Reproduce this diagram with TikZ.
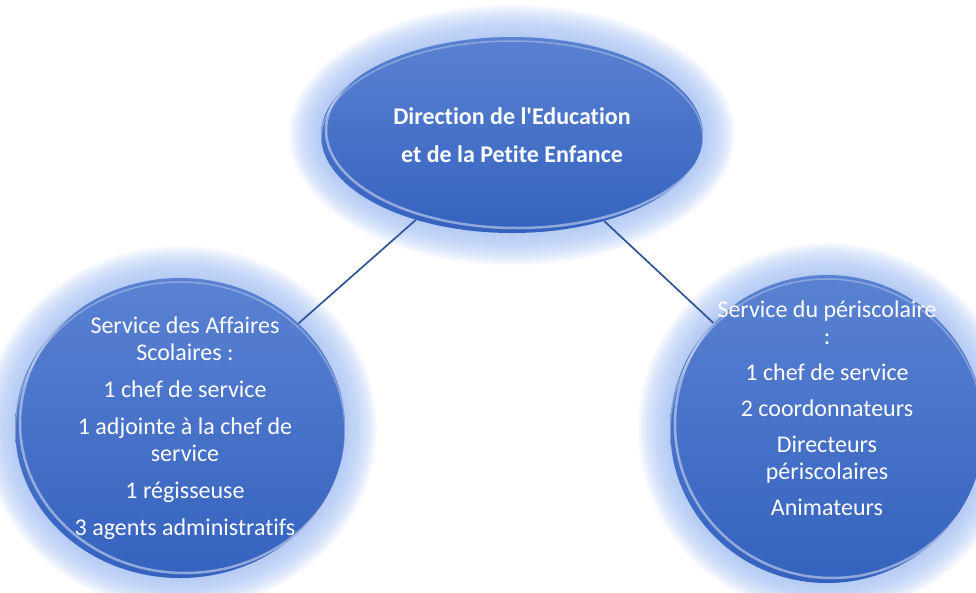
\documentclass[tikz,border=0pt]{standalone}
\usepackage{fontspec}
\setmainfont{Carlito}[Ligatures=NoCommon]
\usetikzlibrary{shapes.geometric}
\definecolor{bubbletop}{HTML}{5A82D2}
\definecolor{bubblebottom}{HTML}{3462BE}
\definecolor{glowblue}{HTML}{A3BEF2}
\definecolor{linkblue}{HTML}{2F5497}
\begin{document}
\begin{tikzpicture}[x=1pt,y=-1pt,
	bubble/.style={ellipse,inner sep=0pt,top color=bubbletop,bottom color=bubblebottom},
	glow/.style={fill=glowblue,opacity=0.09},
	rim/.style={draw=white,line width=2.5pt,opacity=0.45},
	link/.style={draw=linkblue,line width=1.7pt},
	caption/.style={text=white,align=center,font=\fontsize{24}{27}\selectfont}]
	\useasboundingbox (0,0) rectangle (976,592);
	% soft halo round each bubble
	\foreach \cx/\cy/\rx/\ry in {512/135/191/98,180/428/165/150,827/429/157/154}
		\foreach \g in {1,...,16}
			\fill[glow] (\cx,\cy) ellipse [x radius={\rx pt+2pt*\g}, y radius={\ry pt+2pt*\g}];
	\node[bubble,minimum width=382pt,minimum height=196pt] (direction) at (512,135) {};
	\node[bubble,minimum width=330pt,minimum height=300pt] (affaires) at (180,428) {};
	\node[bubble,minimum width=314pt,minimum height=308pt] (periscolaire) at (827,429) {};
	% glossy rims
	\foreach \cx/\cy/\rx/\ry in {512/135/191/98,180/428/165/150,827/429/157/154}{
		\begin{scope}
			\clip (\cx,\cy) ellipse [x radius=\rx pt, y radius=\ry pt];
			\draw[rim] (\cx+5,\cy-5) ellipse [x radius=\rx pt, y radius=\ry pt];
			\draw[rim,line width=1.5pt,opacity=0.3] (\cx,\cy+4) ellipse [x radius=\rx pt, y radius=\ry pt];
		\end{scope}}
	\draw[link] (direction) -- (affaires);
	\draw[link] (direction) -- (periscolaire);
	\node[caption,font=\fontsize{24}{27}\selectfont\bfseries] (direction-text) at (direction) {Direction de l\textquotesingle Education\\[11pt]et de la Petite Enfance};
	\node[caption] (affaires-text) at ([xshift=5pt]affaires.center) {Service des Affaires\\Scolaires :\\[10pt]1 chef de service\\[10pt]1 adjointe à la chef de\\service\\[10pt]1 régisseuse\\[10pt]3 agents administratifs};
	\node[caption] (periscolaire-text) at ([yshift=21pt]periscolaire.center) {Service du périscolaire\\:\\[9pt]1 chef de service\\[9pt]2 coordonnateurs\\[9pt]Directeurs\\périscolaires\\[9pt]Animateurs};
\end{tikzpicture}
\end{document}
